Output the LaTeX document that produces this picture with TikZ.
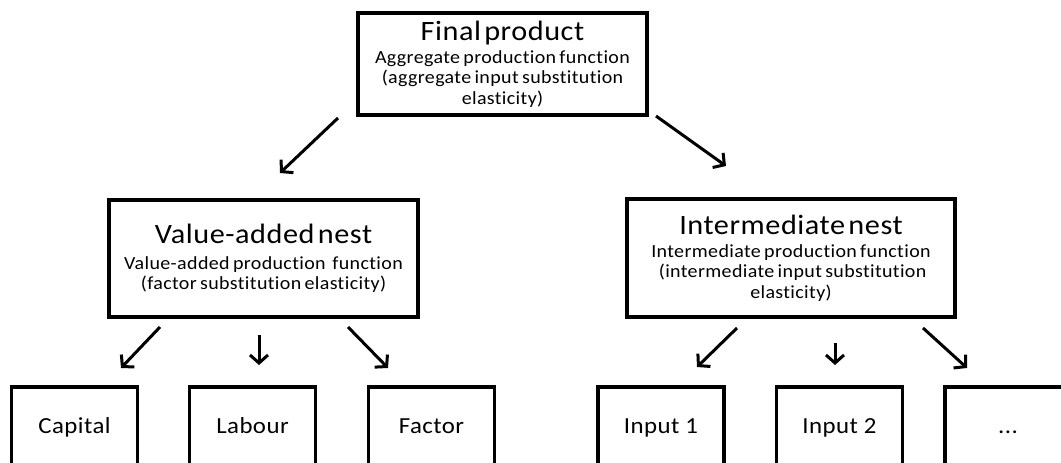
\documentclass[tikz,border=0pt]{standalone}
\usepackage{fontspec}
\setmainfont[FakeStretch=1.08,Ligatures=NoCommon,LetterSpace=2]{Carlito}
\usetikzlibrary{arrows.meta}
\tikzset{
  box/.style={draw=black, line width=3.2pt, fill=white, align=center, inner sep=0pt},
  arr/.style={line width=3pt, -{Straight Barb[length=8pt,width=18pt,line width=3pt]}},
  leaf/.style={box, minimum width=126, minimum height=83, text height=16pt, text depth=7pt, font=\fontsize{23}{26}\selectfont},
}
\newcommand{\subf}{\fontsize{18.5}{20.5}\selectfont}
\newcommand{\ttlf}{\fontsize{28}{30}\selectfont}
\begin{document}
\begin{tikzpicture}[x=1pt,y=-1pt]
\useasboundingbox (0,0) rectangle (1061,463);
\fill[white] (0,0) rectangle (1061,463);
\clip (0,0) rectangle (1061,463);
% top box
\node[box, text width=289pt, minimum height=102] (fp) at (502.5,64)
  {\ttlf Final product\par\vspace{2.8pt}\subf Aggregate production function\par (aggregate input substitution\par elasticity)\par};
% middle boxes
\node[box, text width=309pt, minimum height=117] (va) at (263.5,258.5)
  {\ttlf Value-added nest\par\vspace{5pt}\subf Value-added production\ \ function\par (factor substitution elasticity)\par};
\node[box, text width=328pt, minimum height=118] (im) at (791,258)
  {\ttlf Intermediate nest\par\vspace{2.5pt}\subf Intermediate production function\par \ (intermediate input substitution\par elasticity)\par};
% bottom boxes
\node[leaf] (cap) at (74.5,428.5) {Capital};
\node[leaf] (lab) at (252.5,428.5) {Labour};
\node[leaf] (fac) at (431.5,428.5) {Factor};
\node[leaf] (in1) at (661,428.5) {Input 1};
\node[leaf] (in2) at (839.5,428.5) {Input 2};
\node[leaf] (dots) at (1008,428.5) {...};
% arrow coordinates
\coordinate (t1s) at (338,118); \coordinate (t1e) at (280,173);
\coordinate (t2s) at (656,116); \coordinate (t2e) at (726,166);
\coordinate (b1s) at (160,327); \coordinate (b1e) at (121,368);
\coordinate (b2s) at (259,335); \coordinate (b2e) at (259,365);
\coordinate (b3s) at (348,327); \coordinate (b3e) at (388,368);
\coordinate (b4s) at (737,328); \coordinate (b4e) at (697,367);
\coordinate (b5s) at (835,343); \coordinate (b5e) at (835,365);
\coordinate (b6s) at (923,328); \coordinate (b6e) at (967,368);
\draw[arr] (t1s) -- (t1e);
\draw[arr] (t2s) -- (t2e);
\draw[arr] (b1s) -- (b1e);
\draw[arr] (b2s) -- (b2e);
\draw[arr] (b3s) -- (b3e);
\draw[arr] (b4s) -- (b4e);
\draw[arr] (b5s) -- (b5e);
\draw[arr] (b6s) -- (b6e);
\end{tikzpicture}
\end{document}
